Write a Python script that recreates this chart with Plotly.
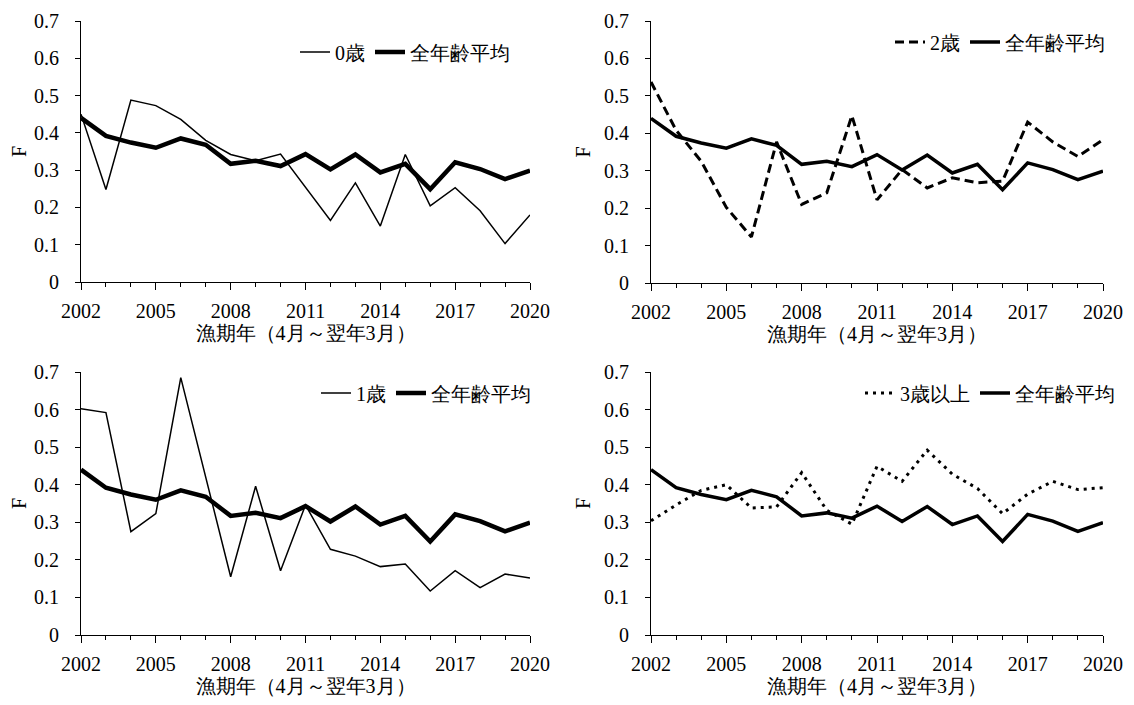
import plotly.graph_objects as go

years = list(range(2002, 2021))

avg_all = [0.440, 0.392, 0.374, 0.360, 0.385, 0.368, 0.317, 0.325, 0.311, 0.343,
           0.302, 0.342, 0.294, 0.317, 0.249, 0.321, 0.303, 0.276, 0.299]
age0 = [0.450, 0.248, 0.488, 0.473, 0.436, 0.380, 0.342, 0.325, 0.343, 0.255,
        0.165, 0.266, 0.150, 0.342, 0.204, 0.253, 0.191, 0.103, 0.180]
age1 = [0.602, 0.592, 0.275, 0.323, 0.685, 0.420, 0.155, 0.396, 0.171, 0.346,
        0.228, 0.210, 0.182, 0.189, 0.117, 0.171, 0.126, 0.162, 0.152]
age2 = [0.537, 0.408, 0.325, 0.202, 0.123, 0.377, 0.210, 0.241, 0.447, 0.222,
        0.303, 0.254, 0.281, 0.268, 0.272, 0.430, 0.377, 0.338, 0.383]
age3p = [0.304, 0.346, 0.385, 0.400, 0.338, 0.341, 0.432, 0.332, 0.295, 0.449,
         0.409, 0.492, 0.428, 0.390, 0.323, 0.375, 0.409, 0.387, 0.392]

y_ticks = [0, 0.1, 0.2, 0.3, 0.4, 0.5, 0.6, 0.7]
y_ticktext = ["0", "0.1", "0.2", "0.3", "0.4", "0.5", "0.6", "0.7"]
x_ticks = [2002, 2005, 2008, 2011, 2014, 2017, 2020]

xtitle = "漁期年（4月～翌年3月）"
FONT = "Liberation Serif"

# the page body has an 8px margin, so the figure is placed 8px in from the window
OFF = 8
SW, SH = 1134, 705
W, H = SW - 2 * OFF, SH - 2 * OFF

panels = [
    (age0, "0歳", "solid", 1.5, "", "legend"),
    (age2, "2歳", "9px,5px", 3, "2", "legend2"),
    (age1, "1歳", "solid", 1.5, "3", "legend3"),
    (age3p, "3歳以上", "3px,5px", 3, "4", "legend4"),
]
avg_widths = [4.5, 3.5, 4.5, 3.5]

fig = go.Figure()
for (series, name, dash, w, ax, lg), aw in zip(panels, avg_widths):
    fig.add_trace(go.Scatter(
        x=years, y=series, mode="lines", name=name,
        line=dict(color="black", width=w, dash=dash),
        xaxis="x" + ax, yaxis="y" + ax, legend=lg,
    ))
    fig.add_trace(go.Scatter(
        x=years, y=avg_all, mode="lines", name="全年齢平均",
        line=dict(color="black", width=aw),
        xaxis="x" + ax, yaxis="y" + ax, legend=lg,
    ))

def fx(sx):
    return (sx - OFF) / W

def fy(sy):
    return (H - (sy - OFF)) / H

doms = [
    ([fx(81), fx(530)], [fy(282), fy(21)]),
    ([fx(651), fx(1103)], [fy(283), fy(21)]),
    ([fx(81), fx(530)], [fy(635), fy(372)]),
    ([fx(651), fx(1103)], [fy(635), fy(372)]),
]

layout = dict(
    template="none",
    width=W, height=H,
    margin=dict(l=0, r=0, t=0, b=0, autoexpand=False),
    paper_bgcolor="white", plot_bgcolor="white",
    font=dict(family=FONT, size=20, color="black"),
    showlegend=True,
)

for i, (dx, dy) in enumerate(doms):
    sfx = "" if i == 0 else str(i + 1)
    layout["xaxis" + sfx] = dict(
        domain=dx, anchor="y" + sfx, range=[2002, 2020], automargin=False,
        tickvals=x_ticks, ticks="outside", ticklen=7, tickwidth=1, tickcolor="black",
        showline=True, linecolor="black", linewidth=1, showgrid=False, zeroline=False,
        minor=dict(dtick=1, tick0=2002, ticks="outside", ticklen=4, tickwidth=1,
                   tickcolor="black", showgrid=False),
        tickfont=dict(family=FONT, size=20, color="black"),
        ticklabelstandoff=4, ticklabeloverflow="allow",
        title=dict(text=xtitle, font=dict(family=FONT, size=20, color="black"), standoff=0),
    )
    layout["yaxis" + sfx] = dict(
        domain=dy, anchor="x" + sfx, range=[0, 0.7], automargin=False,
        tickvals=y_ticks, ticktext=y_ticktext,
        ticks="outside", ticklen=5, tickwidth=1, tickcolor="black",
        showline=True, linecolor="black", linewidth=1, showgrid=False, zeroline=False,
        tickfont=dict(family=FONT, size=20, color="black"),
        ticklabelstandoff=12, ticklabeloverflow="allow",
        title=dict(text="F", font=dict(family=FONT, size=20, color="black"), standoff=8),
    )

legend_pos = [
    (fx(515), fy(52)),
    (fx(1110), fy(42)),
    (fx(536), fy(393)),
    (fx(1120), fy(393)),
]
for i, (lx, ly) in enumerate(legend_pos):
    key = "legend" if i == 0 else "legend" + str(i + 1)
    layout[key] = dict(
        x=lx, y=ly, xanchor="right", yanchor="middle",
        orientation="h", bgcolor="rgba(0,0,0,0)",
        font=dict(family=FONT, size=20, color="black"),
        itemwidth=30, tracegroupgap=0,
    )

fig.update_layout(**layout)
fig.write_html("out.html")
